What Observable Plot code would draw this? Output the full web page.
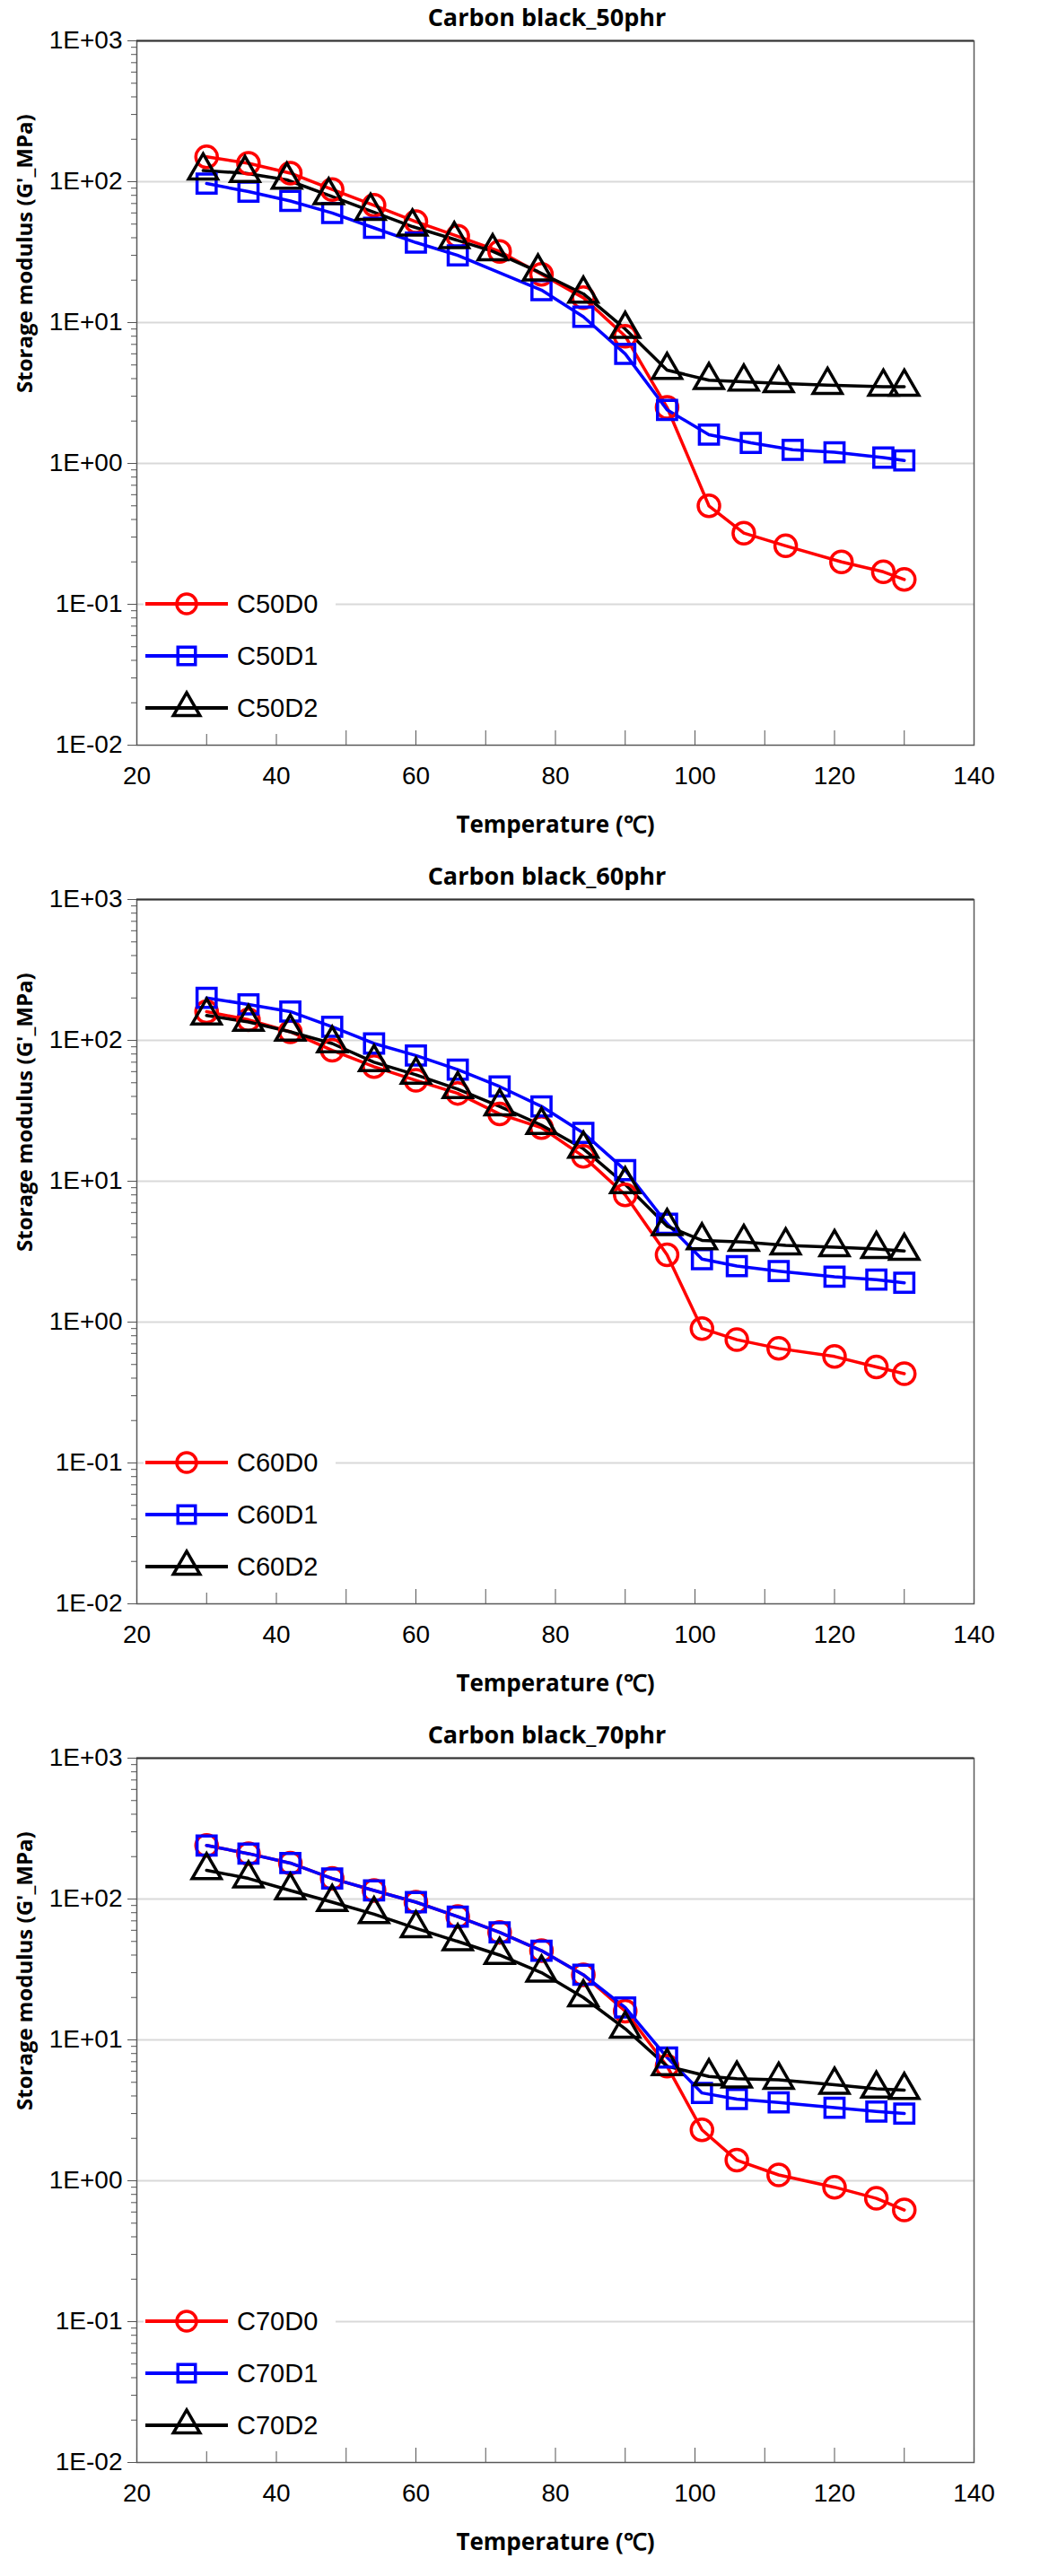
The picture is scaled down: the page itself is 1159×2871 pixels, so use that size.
<!DOCTYPE html>
<html><head><meta charset="utf-8">
<script src="https://cdn.jsdelivr.net/npm/d3@7"></script>
<script src="https://cdn.jsdelivr.net/npm/@observablehq/plot@0.6"></script>
<style>
body{margin:0;background:#fff;font-family:"Open Sans",sans-serif;}
.panel{position:relative;width:1159px;height:957px;}
.title{position:absolute;top:0px;left:0;width:1159px;text-align:center;font-weight:bold;font-size:27px;padding-left:60px;box-sizing:border-box;}
.plot{position:absolute;top:25px;left:0;}
.legend{position:absolute;left:160px;background:#fff;padding-right:20px;font-family:"Liberation Sans Narrow","Liberation Sans",sans-serif;font-size:29px;}
</style></head><body>
<div id="root"></div>
<script>
const titles = ["Carbon black_50phr","Carbon black_60phr","Carbon black_70phr"];
const seriesNames = [["C50D0","C50D1","C50D2"],["C60D0","C60D1","C60D2"],["C70D0","C70D1","C70D2"]];
const colors = ["#ff0000","#0000ff","#000000"];
const symbols = ["circle","square","triangle"];

// Panel 1 (50 phr)
const t50D0 = [30,36,42,48,54,60,66,72,78,84,90,96,102,107,113,121,127,130];
const g50D0 = [150,135,115,88,68,52,41,32,22,15,8,2.5,0.5,0.32,0.26,0.2,0.17,0.15];
const t50D1 = [30,36,42,48,54,60,66,78,84,90,96,102,108,114,120,127,130];
const g50D1 = [97,85,73,60,47,37,30,17,11,6,2.4,1.6,1.4,1.25,1.2,1.1,1.05];
const t50D2 = [29.5,35.5,41.5,47.5,53.5,59.5,65.5,71,77.5,84,90,96,102,107,112,119,127,130];
const g50D2 = [120,115,103,80,62,48,39,32,23,16,9,4.6,3.9,3.8,3.7,3.6,3.5,3.5];

// Panel 2 (60 phr)
const t60D0 = [30,36,42,48,54,60,66,72,78,84,90,96,101,106,112,120,126,130];
const g60D0 = [160,140,115,85,65,52,42,30,24,15,8,3.0,0.9,0.75,0.65,0.57,0.48,0.43];
const t60D1 = [30,36,42,48,54,60,66,72,78,84,90,96,101,106,112,120,126,130];
const g60D1 = [200,180,160,125,95,78,62,47,34,22,12,5,2.8,2.5,2.3,2.1,2.0,1.9];
const t60D2 = [30,36,42,48,54,60,66,72,78,84,90,96,101,107,113,120,126,130];
const g60D2 = [150,135,115,95,70,57,45,34,25,17,9.5,4.8,3.8,3.7,3.5,3.4,3.3,3.2];

// Panel 3 (70 phr)
const t70D0 = [30,36,42,48,54,60,66,72,78,84,90,96,101,106,112,120,126,130];
const g70D0 = [240,210,180,140,115,95,75,58,43,29,16,6.5,2.3,1.4,1.1,0.9,0.75,0.62];
const t70D1 = [30,36,42,48,54,60,66,72,78,84,90,96,101,106,112,120,126,130];
const g70D1 = [240,210,180,140,115,95,75,58,43,29,17,7.5,4.2,3.8,3.6,3.3,3.1,3.0];
const t70D2 = [30,36,42,48,54,60,66,72,78,84,90,96,102,106,112,120,126,130];
const g70D2 = [160,140,115,95,78,62,50,40,30,20,12,6.5,5.5,5.3,5.2,4.8,4.5,4.4];

const panelsT = [[t50D0,t50D1,t50D2],[t60D0,t60D1,t60D2],[t70D0,t70D1,t70D2]];
const panelsG = [[g50D0,g50D1,g50D2],[g60D0,g60D1,g60D2],[g70D0,g70D1,g70D2]];
const xTicks = [20,40,60,80,100,120,140];
const yMajor = [1e-2,1e-1,1e0,1e1,1e2,1e3];
const yLabels = ["1E-02","1E-01","1E+00","1E+01","1E+02","1E+03"];
const yMinor = [];
for (let e=-2;e<3;e++) for (let k=2;k<10;k++) yMinor.push(k*Math.pow(10,e));
const xMinor = [30,50,70,90,110,130];
const yLabel = d => yLabels[Math.round(Math.log10(d))+2];

const root = document.getElementById("root");
const tickFont = '"Liberation Sans Narrow","Liberation Sans",sans-serif';

titles.forEach((title,p)=>{
  const panel = document.createElement("div"); panel.className="panel";
  const tt = document.createElement("div"); tt.className="title"; tt.textContent=title; panel.appendChild(tt);
  const data = [];
  seriesNames[p].forEach((s,i)=>panelsT[p][i].forEach((t,j)=>data.push({s,t,g:panelsG[p][i][j]})));
  const chart = Plot.plot({
    width:1159, height:930,
    marginLeft:152, marginRight:74, marginTop:20, marginBottom:125,
    style:{fontFamily:tickFont, fontSize:"28px", color:"#000"},
    x:{domain:[20,140], ticks:[], label:null},
    y:{type:"log", domain:[1e-2,1e3], ticks:[], label:null},
    color:{domain:seriesNames[p], range:colors},
    symbol:{domain:seriesNames[p], range:symbols},
    marks:[
      Plot.ruleY(yMajor.slice(1,5),{stroke:"#d9d9d9",strokeWidth:2}),
      Plot.frame({stroke:"#595959",strokeWidth:1.5}),
      Plot.ruleY([1e3],{stroke:"#333",strokeWidth:2}),
      Plot.axisY(yMinor,{tickFormat:()=>"",tickSize:6,stroke:"#555",label:null}),
      Plot.axisY(yMajor,{tickFormat:yLabel,tickSize:10,tickPadding:6,fontSize:28,stroke:"#555",label:null}),
      Plot.axisX(xMinor,{tickFormat:()=>"",tickSize:-16,stroke:"#555",label:null}),
      Plot.axisX(xTicks,{tickFormat:d=>String(d),tickSize:-16,tickPadding:40,fontSize:28,stroke:"#555",label:null}),
      Plot.line(data,{x:"t",y:"g",z:"s",stroke:"s",strokeWidth:3.5}),
      Plot.dot(data,{x:"t",y:"g",stroke:"s",symbol:"s",r:12,strokeWidth:3.5,fill:"none"}),
      Plot.text(["Temperature (℃)"],{frameAnchor:"bottom",dy:97,fontSize:26,fontWeight:"bold",fontFamily:"Open Sans, sans-serif"}),
      Plot.text(["Storage modulus (G'_MPa)"],{frameAnchor:"left",rotate:-90,dx:-124,fontSize:24,fontWeight:"bold",fontFamily:"Open Sans, sans-serif"})
    ]
  });
  chart.classList.add("plot");
  panel.appendChild(chart);
  const lg = document.createElement("div"); lg.className="legend";
  lg.style.top = (25+20+785*0.8-29)+"px";
  seriesNames[p].forEach((s,i)=>{
    const row=document.createElement("div"); row.style.cssText="display:flex;align-items:center;height:58px;";
    const sym = d3.symbol(i===0?d3.symbolCircle:i===1?d3.symbolSquare:d3.symbolTriangle, 380)();
    row.innerHTML = `<svg width="96" height="48"><line x1="2" y1="24" x2="94" y2="24" stroke="${colors[i]}" stroke-width="4"/><path d="${sym}" transform="translate(48,24)" fill="none" stroke="${colors[i]}" stroke-width="3.5"/></svg><span style="margin-left:8px">${s}</span>`;
    lg.appendChild(row);
  });
  panel.appendChild(lg);
  root.appendChild(panel);
});
</script></body></html>
